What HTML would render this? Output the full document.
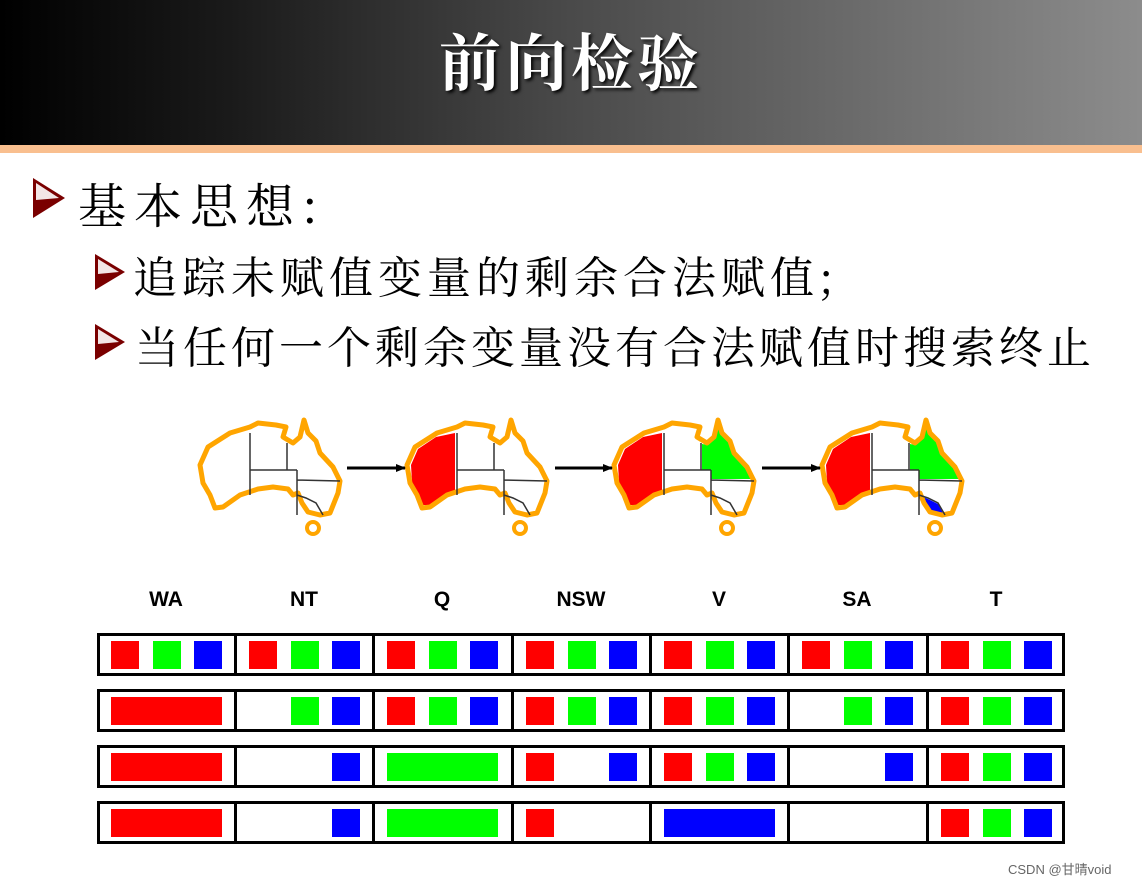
<!DOCTYPE html>
<html><head><meta charset="utf-8"><style>
body{margin:0;width:1142px;height:886px;position:relative;background:#fff;overflow:hidden;font-family:"Liberation Sans","Noto Serif CJK SC",serif}
.ban{position:absolute;left:0;top:0;width:1142px;height:145px;background:linear-gradient(90deg,#000 0%,#1a1a1a 20%,#4a4a4a 50%,#8c8c8c 100%)}
.stripe{position:absolute;left:0;top:145px;width:1142px;height:8px;background:#f9bf8f}
.title{position:absolute;left:0;width:1142px;top:14px;text-align:center;color:#fff;font:bold 62px "Noto Serif CJK SC",serif;letter-spacing:4px;text-shadow:2px 2px 3px #000}
.t{position:absolute;font-family:"Noto Serif CJK SC",serif;color:#000;white-space:nowrap}
.arr{position:absolute}
.row{position:absolute;left:97px;width:962px;height:37px;border:3px solid #000}
.v{position:absolute;width:3px;background:#000}
.sq{position:absolute;width:28px;height:28px}
.h{position:absolute;top:588px;width:138px;text-align:center;font:bold 21px "Liberation Sans",sans-serif}
</style></head><body>
<div class="ban"></div><div class="stripe"></div>
<div class="title">前向检验</div>
<svg class="arr" style="left:33px;top:178px" width="34" height="40"><polygon points="0,0 32,20 0,40" fill="#7a0000"/><polygon points="3,5 26,20 3,22" fill="#fff" opacity=".9"/></svg>
<div class="t" style="left:78px;top:168px;font-size:48px;letter-spacing:8px">基本思想:</div>
<svg class="arr" style="left:95px;top:254px" width="32" height="36"><polygon points="0,0 30,18 0,36" fill="#7a0000"/><polygon points="3,5 24,18 3,20" fill="#fff" opacity=".9"/></svg>
<div class="t" style="left:133px;top:242px;font-size:44px;letter-spacing:5px">追踪未赋值变量的剩余合法赋值;</div>
<svg class="arr" style="left:95px;top:324px" width="32" height="36"><polygon points="0,0 30,18 0,36" fill="#7a0000"/><polygon points="3,5 24,18 3,20" fill="#fff" opacity=".9"/></svg>
<div class="t" style="left:135px;top:312px;font-size:44px;letter-spacing:4px">当任何一个剩余变量没有合法赋值时搜索终止</div>

<svg style="position:absolute;left:0;top:400px" width="1142" height="150">
<defs>
<g id="m">
<path d="M2,50 L10,32 L32,18 L52,12 L60,8 L78,10 L88,12 L85,22 L95,28 L102,22 L106,5 L110,18 L118,26 L122,38 L135,52 L142,66 L140,78 L132,98 L122,100 L110,97 L104,88 L100,78 L95,80 L90,74 L75,72 L60,74 L42,80 L25,92 L17,93 L12,80 L5,68 Z" fill="none" stroke="#ffa500" stroke-width="5" stroke-linejoin="round"/>
<path d="M52,18 L52,80 M52,55 L99,55 M89,28 L89,55 M99,55 L99,100 M99,65 L142,66 M99,80 L108,83 L118,88 L125,100" fill="none" stroke="#333" stroke-width="1.5"/>
<circle cx="115" cy="113" r="6" fill="none" stroke="#ffa500" stroke-width="4"/>
</g>
<path id="wa" d="M6,50 L13,34 L31,22 L50,18 L50,78 L42,79 L25,90 L18,90 L13,79 L7,67 Z" fill="#f00"/>
<path id="q" d="M90,29 L96,30 L102,24 L106,9 L109,19 L117,27 L121,39 L133,53 L139,64 L99,64 L99,55 L90,55 Z" fill="#0f0"/>
<path id="vv" d="M100,81 L108,84 L118,89 L123,98 L110,95 L104,88 L100,85 Z" fill="#00f"/>
<marker id="ah" markerWidth="10" markerHeight="8" refX="9" refY="4" orient="auto" markerUnits="userSpaceOnUse"><polygon points="0,0 10,4 0,8" fill="#000"/></marker>
</defs>
<g transform="translate(198,15)"><use href="#m"/></g>
<g transform="translate(405,15)"><use href="#wa"/><use href="#m"/></g>
<g transform="translate(612,15)"><use href="#wa"/><use href="#q"/><use href="#m"/></g>
<g transform="translate(820,15)"><use href="#wa"/><use href="#q"/><use href="#vv"/><use href="#m"/></g>
<g stroke="#000" stroke-width="3">
<line x1="347" y1="68" x2="405" y2="68" marker-end="url(#ah)"/>
<line x1="555" y1="68" x2="612" y2="68" marker-end="url(#ah)"/>
<line x1="762" y1="68" x2="820" y2="68" marker-end="url(#ah)"/>
</g>
</svg>

<div class="h" style="left:97px">WA</div><div class="h" style="left:235px">NT</div><div class="h" style="left:373px">Q</div><div class="h" style="left:512px">NSW</div><div class="h" style="left:650px">V</div><div class="h" style="left:788px">SA</div><div class="h" style="left:927px">T</div>

<div id="tbl"></div>
<div style="position:absolute;left:1008px;top:859px;font:13px 'Liberation Sans','Noto Sans CJK SC',sans-serif;color:#666">CSDN @甘晴void</div>
<script>
var cols=[97,235,373,512,650,788,927];
var rows=[633,689,745,801];
var data=[
["RGB","RGB","RGB","RGB","RGB","RGB","RGB"],
["r","GB","RGB","RGB","RGB","GB","RGB"],
["r","B","g","RB","RGB","B","RGB"],
["r","B","g","R","b","","RGB"]];
var h='';
rows.forEach(function(y,i){
h+='<div class="row" style="top:'+y+'px"></div>';
for(var k=1;k<7;k++)h+='<div class="v" style="left:'+(cols[k]-1)+'px;top:'+y+'px;height:43px"></div>';
data[i].forEach(function(s,j){
var c=cols[j],sy=y+8;
if(s=='r'||s=='g'||s=='b'){var col={r:'#f00',g:'#0f0',b:'#00f'}[s];h+='<div class="sq" style="left:'+(c+14)+'px;top:'+sy+'px;width:111px;background:'+col+'"></div>';}
else{if(s.indexOf('R')>=0)h+='<div class="sq" style="left:'+(c+14)+'px;top:'+sy+'px;background:#f00"></div>';
if(s.indexOf('G')>=0)h+='<div class="sq" style="left:'+(c+56)+'px;top:'+sy+'px;background:#0f0"></div>';
if(s.indexOf('B')>=0)h+='<div class="sq" style="left:'+(c+97)+'px;top:'+sy+'px;background:#00f"></div>';}
});
});
document.getElementById('tbl').innerHTML=h;
</script>
</body></html>
